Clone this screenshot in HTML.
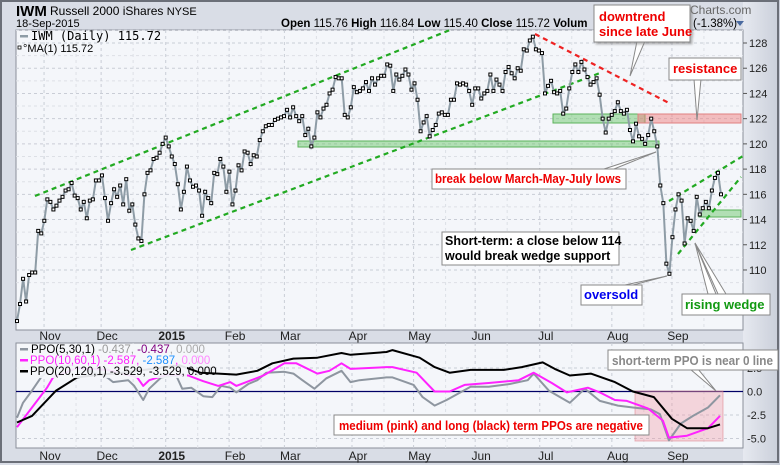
<!DOCTYPE html>
<html><head><meta charset="utf-8">
<style>
html,body{margin:0;padding:0;background:#d9dde6;}
body{width:780px;height:465px;overflow:hidden;position:relative;font-family:"Liberation Sans",sans-serif;}
svg{position:absolute;left:0;top:0;}
</style></head>
<body>
<svg id="chart" width="780" height="465" viewBox="0 0 780 465" xmlns="http://www.w3.org/2000/svg" font-family="Liberation Sans, sans-serif">
<defs>
<linearGradient id="rgrad" x1="0" x2="1" y1="0" y2="0"><stop offset="0" stop-color="#e6e9f0"/><stop offset="1" stop-color="#c9ced9"/></linearGradient>
<filter id="sh" x="-5%" y="-5%" width="115%" height="130%"><feDropShadow dx="2" dy="2" stdDeviation="1" flood-color="#888" flood-opacity="0.6"/></filter>
</defs>
<rect x="0" y="0" width="780" height="465" fill="#d9dde6"/>
<rect x="743" y="0" width="37" height="465" fill="url(#rgrad)"/>
<rect x="1" y="1" width="777" height="461" fill="none" stroke="#6b6f78" stroke-width="2"/>
<rect x="16" y="30" width="727" height="300" fill="#f4f6fa" stroke="#8a8f99"/>
<rect x="16" y="343" width="727" height="105" fill="#f4f6fa" stroke="#8a8f99"/>
<g id="grid"></g>
<g id="shapes"></g>
<g id="series"></g>
<g id="axes"></g>
<g id="notes"></g>
</svg>
<script>
// ---------- data ----------
const closes = [105.95,107.3,109.3,107.5,109.6,109.8,109.8,113.1,112.9,113.9,
115.6,115.4,114.8,115.1,115.5,115.8,116.3,116.4,116.9,115.9,
115.7,114.8,115.4,114.1,115.5,115.6,117.1,117.1,117.5,115.7,
113.9,115.3,116.4,115.8,116.7,115.2,117.2,114.7,115.2,113.6,
112.5,112.3,116.0,117.7,117.9,118.8,118.9,119.3,120.0,120.5,
119.8,119.0,118.4,116.8,114.8,116.2,118.2,117.1,116.6,116.7,
116.3,114.3,116.2,115.7,115.3,117.7,117.6,118.8,118.2,116.2,
117.8,115.2,116.3,118.3,117.9,119.4,119.3,118.4,119.1,119.0,
120.3,121.0,121.4,121.5,121.5,121.9,122.0,122.1,122.2,122.7,
122.1,122.9,122.2,121.8,122.2,120.7,121.2,119.8,120.5,122.5,
122.1,122.8,123.1,124.0,124.3,125.3,125.2,125.2,122.3,122.1,
122.9,124.5,124.1,124.2,124.4,124.9,124.2,125.2,124.7,125.2,
125.4,125.4,126.3,126.2,124.2,125.5,125.1,125.4,125.9,125.5,
124.3,124.8,123.5,121.0,121.7,122.2,120.6,121.1,121.5,122.4,
122.5,122.3,122.3,123.5,123.5,124.8,124.7,124.8,124.7,124.2,
123.1,124.4,124.4,123.6,124.0,124.2,125.5,124.2,125.1,124.7,
124.2,125.7,126.1,125.6,125.2,126.0,125.8,127.5,127.4,128.2,
128.5,127.5,127.4,127.2,124.0,124.6,125.0,124.1,124.0,124.2,
122.4,122.8,124.4,125.7,126.3,125.7,126.5,125.9,125.3,124.7,
124.9,125.2,123.9,122.0,120.9,122.0,122.3,122.6,123.3,122.6,
122.4,122.7,121.1,120.2,121.6,120.6,120.4,120.0,120.7,122.0,
121.0,119.8,116.7,115.3,110.5,109.7,112.6,114.8,116.0,115.5,
112.1,114.1,113.9,113.1,115.8,114.4,114.9,115.4,114.9,116.3,
117.3,117.7,116.0];
const priceTicks = [110,112,114,116,118,120,122,124,126,128];
const ppoTicks = [-5,-2.5,0,2.5];
const ppoTickLabels = ["-5.0","-2.5","0.0","2.5"];
const monthLabels = ["Nov","Dec","2015","Feb","Mar","Apr","May","Jun","Jul","Aug","Sep"];
const monthDays = [11,30,51.5,72.6,91,113.5,134,154.5,176,200,220];
const ppoShortDays = [0,2,5,8,11,18,24,30,32,37,39,42,44,48,53,55,58,62,65,68,71,73,77,80,83,89,92,95,99,103,108,111,114,123,125,132,135,139,143,147,151,157,164,170,172,177,184,189,194,200,205,211,214,217,221,225,230,234];
const ppoShortVals = [-2.8,-1.2,0.1,1.5,2.5,2.8,2.2,1.5,1.0,1.2,0.6,-0.9,0.3,1.5,1.7,0.3,0.4,-0.5,-0.6,0.6,0.4,-0.1,0.8,1.2,2.0,2.1,1.9,1.2,0.3,1.4,2.2,1.0,1.2,1.5,1.5,0.7,-0.6,-1.5,-0.9,-0.2,0.5,0.5,0.8,1.2,1.9,0.1,-1.2,0.3,-1.0,-1.5,-1.7,-1.9,-2.4,-5.2,-3.4,-2.6,-1.7,-0.4];
const ppoMedDays = [0,5,10,12,20,30,40,42,44,50,57,62,67,71,73,78,82,89,93,100,104,108,111,123,125,133,139,144,149,157,167,172,178,183,190,194,199,203,210,215,217,223,230,234];
const ppoMedVals = [-3.8,-1.7,0.4,1.5,2.5,2.3,1.5,0.6,1.2,1.8,1.7,1.1,0.6,1.0,0.6,1.2,1.7,3.0,3.0,1.9,2.2,3.0,2.4,2.6,2.6,2.0,0,0,0.7,0.9,1.2,2.0,0.9,-0.1,0.4,-0.1,-0.9,-1.0,-1.8,-3.1,-4.9,-4.7,-3.9,-2.6];
const ppoLongDays = [0,5,13,20,25,35,45,54,61,67,73,80,85,92,100,108,111,123,125,134,139,144,151,162,168,175,179,184,191,199,205,212,218,223,230,234];
const ppoLongVals = [-3.3,-2.6,0.1,1.5,1.7,2.0,2.4,2.8,2.0,1.9,1.8,2.2,3.0,3.5,3.6,4.1,3.9,4.2,4.4,3.6,2.6,2.0,2.3,2.3,2.6,3.1,2.4,1.7,1.9,1.0,0,-0.6,-2.9,-3.9,-3.9,-3.5];

// ---------- scales ----------
const NS = "http://www.w3.org/2000/svg";
const X0 = 17, X1 = 721;
function xIdx(i){ return X0 + i*(X1-X0)/(closes.length-1); }
function xDay(d){ return X0 + d*(720-X0)/234; }
function yPrice(v){ return 43 + (128 - v)*12.61; }
function yPPO(v){ return 391.5 - v*9.4; }
function mk(tag, attrs, parent){
  const e = document.createElementNS(NS, tag);
  for (const k in attrs) e.setAttribute(k, attrs[k]);
  parent.appendChild(e); return e;
}
const grid = document.getElementById('grid');
const series = document.getElementById('series');
const axes = document.getElementById('axes');

priceTicks.forEach(t => {
  const l = mk('line', {x1:16,x2:743,y1:yPrice(t),y2:yPrice(t),stroke:'#c9cdd6','stroke-dasharray':'3,3'}, grid);
  
  
  const tx = mk('text', {x:749,y:yPrice(t)+4,'font-size':11,fill:'#222'}, axes);
  tx.textContent = String(t);
  
  
  mk('line',{x1:743,x2:747,y1:yPrice(t),y2:yPrice(t),stroke:'#555'},axes);
});
for (let v = 109; v <= 129; v += 2) {
  mk('line', {x1:16,x2:743,y1:yPrice(v),y2:yPrice(v),stroke:'#dde0e6','stroke-dasharray':'3,3'}, grid);
}
ppoTicks.forEach((t, k) => {
  mk('line', {x1:16,x2:743,y1:yPPO(t),y2:yPPO(t),stroke:'#c9cdd6','stroke-dasharray':'3,3'}, grid);
  const tx = mk('text', {x:747,y:yPPO(t)+4,'font-size':11,fill:'#222'}, axes);
  tx.textContent = ppoTickLabels[k];
  
  
});
monthDays.forEach((d, k) => {
  const x = xDay(d) - 6;
  mk('line', {x1:x,x2:x,y1:30,y2:330,stroke:'#c9cdd6','stroke-dasharray':'3,3'}, grid);
  mk('line', {x1:x,x2:x,y1:343,y2:448,stroke:'#c9cdd6','stroke-dasharray':'3,3'}, grid);
  const mid = x + 32;
  if (mid < 740) {
    mk('line', {x1:mid,x2:mid,y1:30,y2:330,stroke:'#dde0e6','stroke-dasharray':'3,3'}, grid);
    mk('line', {x1:mid,x2:mid,y1:343,y2:448,stroke:'#dde0e6','stroke-dasharray':'3,3'}, grid);
  }
  [340,460].forEach(yy => {
    const tx = mk('text', {x:xDay(d),y:yy,'font-size':12,'text-anchor':'middle',fill:'#222','font-weight':monthLabels[k]==='2015'?'bold':'normal'}, axes);
    tx.textContent = monthLabels[k];
    
    
  });
});
const zl = mk('line', {x1:16,x2:743,y1:yPPO(0),y2:yPPO(0),stroke:'#000066','stroke-width':1.2}, grid);



const shapes = document.getElementById('shapes');
function band(x1,x2,y1,y2,fill,stroke,name){
  const r = mk('rect',{x:x1,y:y1,width:x2-x1,height:y2-y1,fill:fill,stroke:stroke}, shapes);
  
  
}
band(298,659,141,147,'rgba(110,200,110,0.5)','#5bb35b','support-band-march-may-july');
band(553,645,114,123,'rgba(110,200,110,0.5)','#5bb35b','green-band-june');
band(638,741,114,123,'rgba(240,130,130,0.5)','#e08080','resistance-band');
band(699,741,210,217,'rgba(110,200,110,0.5)','#5bb35b','wedge-support-band');
band(635,723,391,441,'rgba(240,150,160,0.35)','rgba(220,120,130,0.5)','negative-ppo-zone');
function dline(x1,y1,x2,y2,c,name){
  const l = mk('line',{x1:x1,y1:y1,x2:x2,y2:y2,stroke:c,'stroke-width':2.2,'stroke-dasharray':'5,4'}, shapes);
  
  
}
dline(35,196,450,30,'#22aa22','upper-channel-line');
dline(131,250,600,73,'#22aa22','lower-channel-line');
dline(535,34,669,103,'#ee2222','downtrend-line');
dline(669,201,743,156,'#22aa22','wedge-upper-line');
dline(678,254,741,177,'#22aa22','wedge-lower-line');

let pts = closes.map((v,i) => xIdx(i).toFixed(1)+','+yPrice(v).toFixed(1)).join(' ');
const pl = mk('polyline',{points:pts,fill:'none',stroke:'#8e9ca6','stroke-width':2}, series);


closes.forEach((v,i) => {
  const m = mk('rect',{x:xIdx(i)-1.5,y:yPrice(v)-1.5,width:3,height:3,fill:'#fff',stroke:'#000','stroke-width':1}, series);
  
  
});
function ppoLine(days, vals, color, name){
  const p = days.map((d,i) => xDay(d).toFixed(1)+','+yPPO(vals[i]).toFixed(1)).join(' ');
  const l = mk('polyline',{points:p,fill:'none',stroke:color,'stroke-width':2,'stroke-linejoin':'round'}, series);
  
  
}
ppoLine(ppoShortDays, ppoShortVals, '#8e96a0', 'ppo-5-30-line');
ppoLine(ppoMedDays, ppoMedVals, '#ff22ff', 'ppo-10-60-line');
ppoLine(ppoLongDays, ppoLongVals, '#000000', 'ppo-20-120-line');
</script>
<svg width="780" height="465" style="position:absolute;left:0;top:0" font-family="Liberation Sans, sans-serif">
  <g>
    <text x="16" y="16" font-size="15" font-weight="bold" fill="#000">IWM</text>
    <text x="50" y="15" font-size="12" fill="#000">Russell 2000 iShares <tspan font-size="11">NYSE</tspan></text>
    <text x="16" y="27" font-size="11" fill="#000">18-Sep-2015</text>
    <text x="281" y="27" font-size="11.5" fill="#000"><tspan font-weight="bold">Open</tspan> 115.76 <tspan font-weight="bold">High</tspan> 116.84 <tspan font-weight="bold">Low</tspan> 115.40 <tspan font-weight="bold">Close</tspan> 115.72 <tspan font-weight="bold">Volum</tspan></text>
    <text x="690" y="14" font-size="12" fill="#666">Charts.com</text>
    <text x="693" y="27" font-size="11.5" fill="#000">(-1.38%)</text>
    <path d="M736 21 L744 21 L740 26 Z" fill="#4a6aa0"/>
  </g>
  <g>
    <rect x="20" y="35" width="8" height="2.5" fill="#8e9ca6"/>
    <text x="31" y="40" font-size="12" font-family="DejaVu Sans Mono, monospace" fill="#000">IWM (Daily) 115.72</text>
    <rect x="18" y="46" width="3" height="3" fill="#fff" stroke="#000" stroke-width="0.8"/>
    <text x="23" y="52" font-size="11" fill="#000">°MA(1) 115.72</text>
  </g>
  <g>
    <rect x="17" y="344" width="170" height="34" fill="#f4f6fa" opacity="0.92"/>
    <rect x="20" y="348" width="8" height="2.5" fill="#8e96a0"/>
    <text x="31" y="353" font-size="11.5" fill="#000">PPO(5,30,1) <tspan fill="#999">-0.437,</tspan> <tspan fill="#800080">-0.437</tspan><tspan fill="#aaa">, 0.000</tspan></text>
    <rect x="20" y="359" width="8" height="2.5" fill="#ff22ff"/>
    <text x="30" y="364" font-size="11.5" fill="#ff22ff">PPO(10,60,1) -2.587, <tspan fill="#1e90ff">-2.587</tspan>, <tspan fill="#ff88ff">0.000</tspan></text>
    <rect x="20" y="370" width="8" height="2.5" fill="#000"/>
    <text x="30" y="375" font-size="11.5" fill="#000">PPO(20,120,1) -3.529, -3.529, 0.000</text>
  </g>
  <g stroke="#888" stroke-width="1" fill="#fff">
    <polygon points="637,41 645,41 630,76"/>
    <polygon points="694,79 701,79 697,120"/>
    <polygon points="604,169 614,169 656,152"/>
    <polygon points="625,285 633,285 667,276"/>
    <polygon points="708,294 716,294 695,243"/>
    <polygon points="718,294 726,294 695,243"/>
    <polygon points="690,369 698,369 716,391"/>
  </g>
  <g filter="url(#sh)">
    <rect x="594" y="5" width="96" height="37" fill="#fff" stroke="#888"/>
    <text x="599" y="21" font-size="13" font-weight="bold" fill="#ee0000">downtrend</text>
    <text x="599" y="36" font-size="13" font-weight="bold" fill="#ee0000">since late June</text>
  </g>
  <g>
    <rect x="669" y="58" width="72" height="22" fill="#fff" stroke="#888"/>
    <text x="673" y="73" font-size="13" font-weight="bold" fill="#ee0000">resistance</text>
  </g>
  <g>
    <rect x="432" y="169" width="194" height="20" fill="#fff" stroke="#888"/>
    <text x="435" y="183" font-size="13" font-weight="bold" fill="#ee0000" textLength="186" lengthAdjust="spacingAndGlyphs">break below March-May-July lows</text>
  </g>
  <g>
    <rect x="442" y="232" width="177" height="33" fill="#fff" stroke="#888"/>
    <text x="445" y="245" font-size="12.5" font-weight="bold" fill="#000">Short-term: a close below 114</text>
    <text x="445" y="260" font-size="12.5" font-weight="bold" fill="#000">would break wedge support</text>
  </g>
  <g>
    <rect x="581" y="285" width="61" height="20" fill="#fff" stroke="#888"/>
    <text x="584" y="299" font-size="13" font-weight="bold" fill="#0000ee">oversold</text>
  </g>
  <g>
    <rect x="682" y="294" width="88" height="21" fill="#fff" stroke="#888"/>
    <text x="685" y="309" font-size="13" font-weight="bold" fill="#119911">rising wedge</text>
  </g>
  <g>
    <rect x="334" y="415" width="315" height="20" fill="#fff" stroke="#888"/>
    <text x="339" y="430" font-size="13" font-weight="bold" fill="#ee0000" textLength="304" lengthAdjust="spacingAndGlyphs">medium (pink) and long (black) term PPOs are negative</text>
  </g>
  <g>
    <rect x="608" y="350" width="170" height="20" fill="#fff" stroke="#888"/>
    <text x="612" y="365" font-size="13" font-weight="bold" fill="#888" textLength="161" lengthAdjust="spacingAndGlyphs">short-term PPO is near 0 line</text>
  </g>
</svg>
</body></html>
